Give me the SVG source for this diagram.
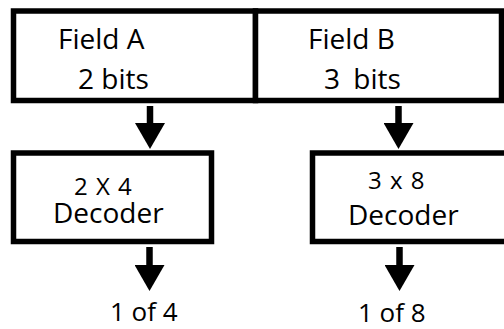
<svg xmlns="http://www.w3.org/2000/svg" width="504" height="329" viewBox="0 0 504 329">
<style>
.box{fill:#fff;stroke:#000;stroke-width:5.5}
.lbl{font-family:"Open Sans","Liberation Sans",sans-serif;font-size:28px;fill:#000}
.sm{font-size:24px}
.out{font-size:26px}
.conn{stroke:#000;stroke-width:6.5;fill:none}
</style>
<defs>
<marker id="ah" markerUnits="userSpaceOnUse" markerWidth="26" markerHeight="30" viewBox="0 0 26 30" refX="0" refY="15" orient="auto">
<path d="M0,0 L26,15 L0,30 Z" fill="#000"/>
</marker>
</defs>
<rect width="504" height="329" fill="#fff"/>
<g id="fieldA">
<rect class="box" x="13.5" y="11" width="242" height="89.5"/>
<text class="lbl" x="58" y="49">Field A</text>
<text class="lbl" x="78" y="89">2 bits</text>
</g>
<g id="fieldB">
<rect class="box" x="255.5" y="11" width="246" height="89.5"/>
<text class="lbl" x="308" y="49">Field B</text>
<text class="lbl" x="324" y="89" word-spacing="6">3 bits</text>
</g>
<g id="decoderA">
<rect class="box" x="13.5" y="153" width="198" height="88.5"/>
<text class="lbl sm" x="74" y="195" word-spacing="2">2 X 4</text>
<text class="lbl" x="53" y="223">Decoder</text>
</g>
<g id="decoderB">
<rect class="box" x="312.5" y="153" width="198" height="88.5"/>
<text class="lbl sm" x="368" y="189" word-spacing="2">3 x 8</text>
<text class="lbl" x="348" y="225">Decoder</text>
</g>
<g id="outA">
<text class="lbl out" x="110" y="321">1 of 4</text>
</g>
<g id="outB">
<text class="lbl out" x="358" y="322">1 of 8</text>
</g>
<g id="connectors">
<line class="conn" x1="150" y1="106" x2="150" y2="123" marker-end="url(#ah)"/>
<line class="conn" x1="398.5" y1="106" x2="398.5" y2="123" marker-end="url(#ah)"/>
<line class="conn" x1="149.5" y1="247" x2="149.5" y2="265" marker-end="url(#ah)"/>
<line class="conn" x1="399.5" y1="247" x2="399.5" y2="265" marker-end="url(#ah)"/>
</g>
</svg>
